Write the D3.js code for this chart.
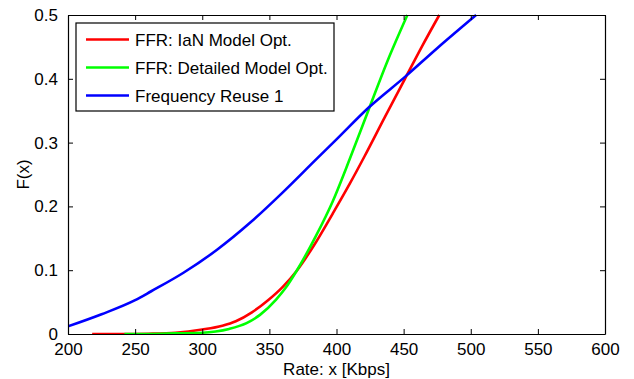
<!DOCTYPE html>
<html lang="en">
<head>
    <meta charset="UTF-8">
    <title>Rate CDF</title>
    <script src="https://d3js.org/d3.v7.min.js"></script>
    <style>
        body { margin: 0; background: #fff; }
        text { font-family: "Liberation Sans", Arial, Helvetica, sans-serif; font-size: 17px; fill: #000; }
        .curve { fill: none; stroke-width: 2.6; stroke-linejoin: round; }
    </style>
</head>
<body>
<script>
    const width = 634;
    const height = 379;

    // series: [rate in Kbps, F(x)]
    const ffrIaN = [[218,0],[240,0],[260,0.0005],[280,0.002],[300,0.007],[315,0.013],[325,0.02],[337,0.034],
        [349,0.053],[360,0.074],[370,0.098],[385,0.145],[397,0.188],[410,0.236],[421,0.279],[436,0.34],
        [451,0.4],[464,0.452],[476.6,0.5]];
    const ffrDetailed = [[242,0],[260,0],[280,0.001],[300,0.002],[310,0.004],[320,0.008],[333,0.017],[343,0.03],
        [355,0.054],[362,0.072],[370,0.098],[385,0.155],[397,0.207],[410,0.275],[424,0.352],[438,0.428],[452.8,0.5]];
    const reuse1 = [[200,0.012],[225,0.031],[250,0.053],[262,0.067],[286,0.096],[311,0.132],[336,0.175],
        [360,0.222],[385,0.274],[400,0.305],[424,0.355],[451,0.403],[475,0.448],[504,0.5]];

    const seriesNames = ["FFR: IaN Model Opt.", "FFR: Detailed Model Opt.", "Frequency Reuse 1"];
    const seriesColors = ["#ff0000", "#00ff00", "#0000ff"];
    const xTicks = [200, 250, 300, 350, 400, 450, 500, 550, 600];
    const yTicks = [0, 0.1, 0.2, 0.3, 0.4, 0.5];

    const margin = {left: 68, top: 15, right: 29, bottom: 45};
    const x = d3.scaleLinear().domain([200, 600]).range([margin.left, width - margin.right]);
    const y = d3.scaleLinear().domain([0, 0.5]).range([height - margin.bottom, margin.top]);

    const svg = d3.select("body").append("svg")
            .attr("width", width).attr("height", height);

    svg.append("clipPath").attr("id", "plot")
        .append("rect")
        .attr("x", x(200)).attr("y", y(0.5) - 2)
        .attr("width", x(600) - x(200)).attr("height", y(0) - y(0.5) + 2);

    const line = d3.line().x(d => x(d[0])).y(d => y(d[1])).curve(d3.curveMonotoneX);

    const series = [ffrIaN, ffrDetailed, reuse1];
    svg.append("g").attr("clip-path", "url(#plot)")
        .selectAll("path").data(series).enter()
        .append("path")
        .attr("class", "curve")
        .attr("stroke", (d, i) => seriesColors[i])
        .attr("d", line);

    // axes with inward ticks on all four sides
    const tickLen = 5;
    svg.append("g").attr("transform", `translate(0,${y(0)})`)
        .call(d3.axisBottom(x).tickValues(xTicks).tickSizeInner(-tickLen).tickSizeOuter(0).tickPadding(9).tickFormat(d3.format("d")));
    svg.append("g").attr("transform", `translate(0,${y(0.5)})`)
        .call(d3.axisTop(x).tickValues(xTicks).tickSizeInner(-tickLen).tickSizeOuter(0).tickFormat(""));
    svg.append("g").attr("transform", `translate(${x(200)},0)`)
        .call(d3.axisLeft(y).tickValues(yTicks).tickSizeInner(-tickLen).tickSizeOuter(0).tickPadding(10)
            .tickFormat(d => d === 0 ? "0" : d3.format(".1f")(d)));
    svg.append("g").attr("transform", `translate(${x(600)},0)`)
        .call(d3.axisRight(y).tickValues(yTicks).tickSizeInner(-tickLen).tickSizeOuter(0).tickFormat(""));

    svg.selectAll(".domain").attr("stroke", "#000").attr("stroke-width", 1.2);
    svg.selectAll(".tick line").attr("stroke", "#000");
    svg.selectAll(".tick text").attr("font-size", null).attr("font-family", null).attr("fill", "#000");

    svg.append("text")
        .attr("x", (x(200) + x(600)) / 2).attr("y", 375)
        .attr("text-anchor", "middle")
        .text("Rate: x [Kbps]");
    svg.append("text")
        .attr("transform", `translate(29,${(y(0) + y(0.5)) / 2}) rotate(-90)`)
        .attr("text-anchor", "middle")
        .text("F(x)");

    // legend
    const legend = svg.append("g").attr("transform", "translate(76,23)");
    legend.append("rect")
        .attr("width", 258).attr("height", 88)
        .attr("fill", "#fff").attr("stroke", "#000").attr("stroke-width", 1.2);
    seriesNames.forEach((name, i) => {
        const yy = 16.5 + i * 28;
        legend.append("line")
            .attr("x1", 10).attr("x2", 53).attr("y1", yy).attr("y2", yy)
            .attr("stroke", seriesColors[i]).attr("stroke-width", 2.6);
        legend.append("text")
            .attr("x", 59).attr("y", yy).attr("dy", "0.36em")
            .text(name);
    });
</script>
</body>
</html>
